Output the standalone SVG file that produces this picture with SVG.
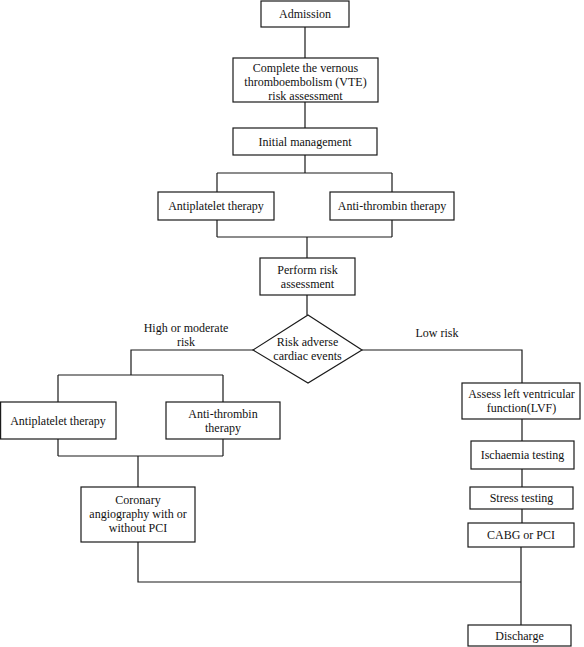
<svg xmlns="http://www.w3.org/2000/svg" width="584" height="647" viewBox="0 0 584 647">
<style>
.box{fill:#fff;stroke:#1a1a1a;stroke-width:1.2}
.ln{fill:none;stroke:#1a1a1a;stroke-width:1.2}
text{font-family:"Liberation Serif","Times New Roman",serif;font-size:12px;fill:#111;text-anchor:middle}
</style>
<rect width="584" height="647" fill="#fff"/>
<g id="connectors">
<path class="ln" d="M305,27V58 M305,102V128 M305,155V173 M217,173H392 M217,173V192 M392,173V192 M217,220V237 M392,220V237 M217,237H392 M307,237V258 M307,295V315"/>
<path class="ln" d="M253,350H131V375 M58,375H223 M58,375V402 M223,375V402 M58,439V456 M223,439V456 M58,456H223 M138,456V487 M138,542V582H521"/>
<path class="ln" d="M362,350H522V383 M522,419V441 M522,469V487 M522,509V523 M521,547V625"/>
</g>
<g id="admission"><rect class="box" x="261" y="1" width="88" height="26"/><text x="305" y="18">Admission</text></g>
<g id="vte"><rect class="box" x="233" y="58" width="145" height="44"/><text x="305.5" y="71.5">Complete the vernous</text><text x="305.5" y="85.5">thromboembolism (VTE)</text><text x="305.5" y="99.5">risk assessment</text></g>
<g id="initial"><rect class="box" x="233" y="128" width="144" height="27"/><text x="305" y="146">Initial management</text></g>
<g id="antiplatelet1"><rect class="box" x="158" y="192" width="116" height="28"/><text x="216" y="210">Antiplatelet therapy</text></g>
<g id="antithrombin1"><rect class="box" x="330" y="192" width="124" height="28"/><text x="392" y="210">Anti-thrombin therapy</text></g>
<g id="perform"><rect class="box" x="260" y="258" width="95" height="37"/><text x="307.5" y="273.5">Perform risk</text><text x="307.5" y="287.5">assessment</text></g>
<g id="decision"><polygon class="box" points="308,315 362,350 308,383 253,350"/><text x="307.5" y="345.5">Risk adverse</text><text x="307.5" y="359.5">cardiac events</text></g>
<g id="label-high"><text x="186" y="332">High or moderate</text><text x="186" y="346">risk</text></g>
<g id="label-low"><text x="437" y="337">Low risk</text></g>
<g id="antiplatelet2"><rect class="box" x="0.6" y="402" width="115.4" height="37"/><text x="58" y="424.5">Antiplatelet therapy</text></g>
<g id="antithrombin2"><rect class="box" x="166" y="402" width="114" height="37"/><text x="223" y="417.5">Anti-thrombin</text><text x="223" y="431.5">therapy</text></g>
<g id="coronary"><rect class="box" x="81" y="487" width="114" height="55"/><text x="138" y="503.5">Coronary</text><text x="138" y="517.5">angiography with or</text><text x="138" y="531.5">without PCI</text></g>
<g id="lvf"><rect class="box" x="462" y="383" width="118" height="36"/><text x="521.5" y="398">Assess left ventricular</text><text x="521.5" y="412">function(LVF)</text></g>
<g id="ischaemia"><rect class="box" x="471" y="441" width="103" height="28"/><text x="522.5" y="459">Ischaemia testing</text></g>
<g id="stress"><rect class="box" x="470" y="487" width="103" height="22"/><text x="521.5" y="502">Stress testing</text></g>
<g id="cabg"><rect class="box" x="468" y="523" width="106" height="24"/><text x="521" y="539">CABG or PCI</text></g>
<g id="discharge"><rect class="box" x="468" y="625" width="103" height="21"/><text x="519.5" y="639.5">Discharge</text></g>
</svg>
